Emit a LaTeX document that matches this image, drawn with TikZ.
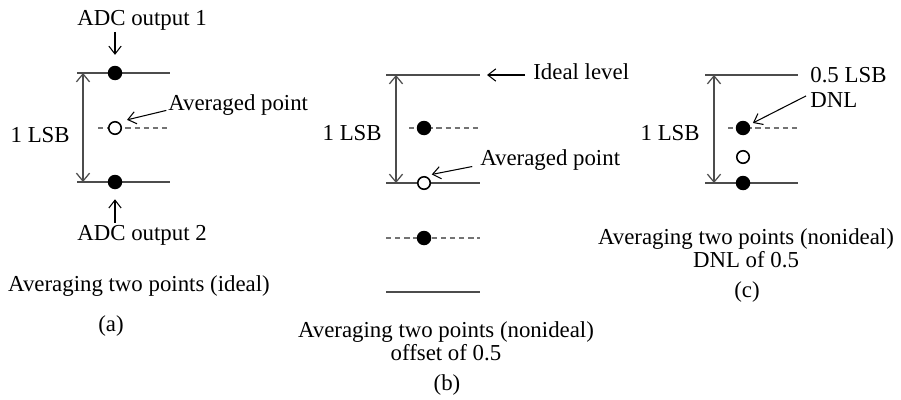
\documentclass[tikz,border=0pt]{standalone}
\usepackage{fontspec}
\setmainfont{Liberation Serif}
\usetikzlibrary{positioning,arrows.meta}

\begin{document}
\begin{tikzpicture}[
    x=0.02cm,
    y=-0.02cm,
    font=\fontsize{13}{13}\selectfont,
    level/.style={draw=black!70, line width=0.7pt},
    halflevel/.style={draw=black!55, line width=0.7pt, dash pattern=on 3pt off 2.2pt},
    sample/.style={circle, fill=black, inner sep=0pt, minimum size=0.29cm},
    avgpt/.style={circle, draw, fill=white, line width=0.9pt, inner sep=0pt, minimum size=0.25cm},
    lsb/.style={{Straight Barb[length=4.5pt,width=7.5pt]}-{Straight Barb[length=4.5pt,width=7.5pt]},
        draw=black!70, line width=0.7pt},
    ptr/.style={-{Straight Barb[length=4.5pt,width=7pt]}, line width=0.6pt},
    txt/.style={inner sep=0pt, anchor=base},
    caption/.style={txt, align=center}
]

\useasboundingbox (0,0) rectangle (901,399);

% ============================================================
% (a) AVERAGING TWO POINTS, IDEAL
% ============================================================
\coordinate (a-tl) at (77,73);
\coordinate (a-tr) at (170,73);
\coordinate (a-bl) at (77,182);
\coordinate (a-br) at (170,182);
\coordinate (a-ml) at (98,128);
\coordinate (a-mr) at (167,128);
\coordinate (a-up) at (83,73);
\coordinate (a-dn) at (83,182);

\draw[level] (a-tl) -- (a-tr);
\draw[level] (a-bl) -- (a-br);
\draw[halflevel] (a-ml) -- (a-mr);
\draw[lsb] (a-up) -- (a-dn);

\node[sample] (a-s1) at (115,73) {};
\node[sample] (a-s2) at (115,182) {};
\node[avgpt] (a-avg) at (115,128) {};

\node[txt, anchor=base east] (a-lsb) at (70,142) {1 LSB};
\node[txt, anchor=base west] (a-out1) at (77,25) {ADC output 1};
\node[txt, anchor=base west] (a-out2) at (77,240) {ADC output 2};
\node[txt, anchor=base west] (a-avgtxt) at (168,110) {Averaged point};

\draw[ptr, shorten <=1pt, shorten >=6pt] (a-out1.south -| a-s1) -- (a-s1);
\draw[ptr, shorten <=1pt, shorten >=5.5pt] (a-out2.north -| a-s2) -- (a-s2);
\draw[ptr, shorten <=1pt, shorten >=5pt] (a-avgtxt.base west) -- (a-avg.60);

\node[txt] (a-cap) at (139,291) {Averaging two points (ideal)};
\node[txt] (a-tag) at (111,331) {(a)};

% ============================================================
% (b) AVERAGING TWO POINTS, OFFSET OF 0.5
% ============================================================
\coordinate (b-tl) at (386,75);
\coordinate (b-tr) at (480,75);
\coordinate (b-ml) at (409,128);
\coordinate (b-mr) at (480,128);
\coordinate (b-bl) at (386,183);
\coordinate (b-br) at (480,183);
\coordinate (b-ll) at (386,238);
\coordinate (b-lr) at (480,238);
\coordinate (b-zl) at (386,292);
\coordinate (b-zr) at (480,292);
\coordinate (b-up) at (396,75);
\coordinate (b-dn) at (396,183);

\draw[level] (b-tl) -- (b-tr);
\draw[halflevel] (b-ml) -- (b-mr);
\draw[level] (b-bl) -- (b-br);
\draw[halflevel] (b-ll) -- (b-lr);
\draw[level] (b-zl) -- (b-zr);
\draw[lsb] (b-up) -- (b-dn);

\node[sample] (b-s1) at (424,128) {};
\node[avgpt] (b-avg) at (424,183) {};
\node[sample] (b-s2) at (424,238) {};

\node[txt, anchor=base east] (b-lsb) at (382,140) {1 LSB};
\node[txt, anchor=base west] (b-ideal) at (533,79) {Ideal level};
\node[txt, anchor=base west] (b-avgtxt) at (480,165) {Averaged point};

\draw[ptr, shorten <=4.5pt, shorten >=4pt] (b-ideal.base west |- b-tr) -- (b-tr);
\draw[ptr, shorten <=4.5pt, shorten >=4.5pt] (b-avgtxt.base west) -- (b-avg.north);

% multi-line nodes: base = baseline of the last line
\node[caption] (b-cap) at (446,360) {Averaging two points (nonideal)\\offset of 0.5};
\node[txt] (b-tag) at (447,390) {(b)};

% ============================================================
% (c) AVERAGING TWO POINTS, DNL OF 0.5
% ============================================================
\coordinate (c-tl) at (705,75);
\coordinate (c-tr) at (798,75);
\coordinate (c-ml) at (728,128);
\coordinate (c-mr) at (798,128);
\coordinate (c-bl) at (705,183);
\coordinate (c-br) at (798,183);
\coordinate (c-up) at (714,75);
\coordinate (c-dn) at (714,183);

\draw[level] (c-tl) -- (c-tr);
\draw[halflevel] (c-ml) -- (c-mr);
\draw[level] (c-bl) -- (c-br);
\draw[lsb] (c-up) -- (c-dn);

\node[sample] (c-s1) at (743,128) {};
\node[avgpt] (c-avg) at (743,157) {};
\node[sample] (c-s2) at (743,183) {};

\node[txt, anchor=base east] (c-lsb) at (700,140) {1 LSB};
\node[txt, anchor=base west, align=left, font=\fontsize{13}{14.2}\selectfont]
    (c-dnl) at (810,107) {0.5 LSB\\DNL};

\draw[ptr, shorten >=2pt] ([shift={(-4,9)}]c-dnl.west) -- (c-s1);

\node[caption] (c-cap) at (746,267) {Averaging two points (nonideal)\\DNL of 0.5};
\node[txt] (c-tag) at (747,297) {(c)};

\end{tikzpicture}
\end{document}
